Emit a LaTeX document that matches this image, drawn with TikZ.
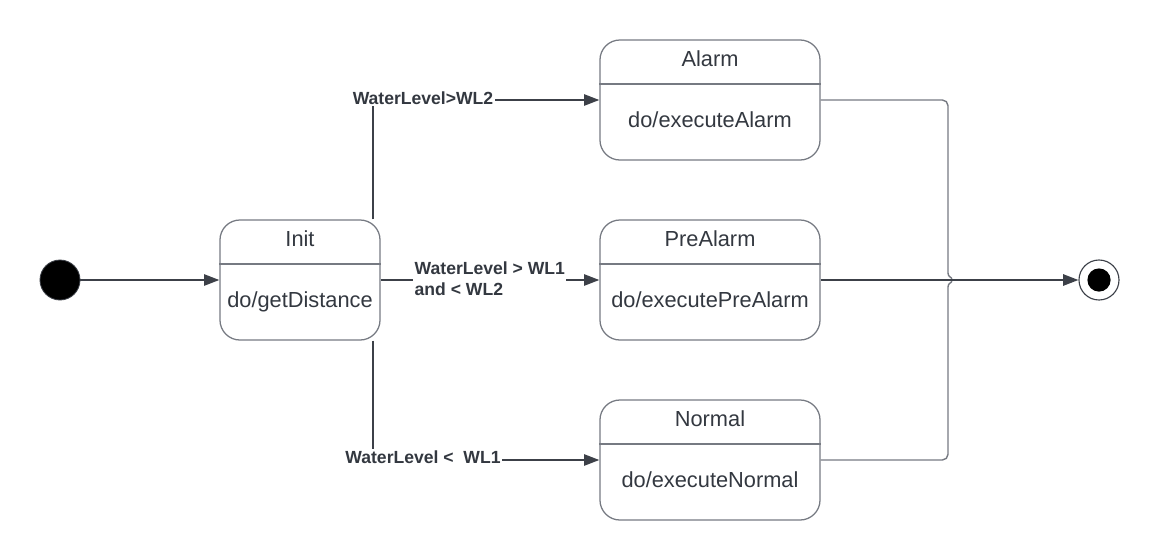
\documentclass[tikz,border=0pt]{standalone}
\usepackage{fontspec}
\setmainfont{Liberation Sans}
\usetikzlibrary{arrows.meta}

\definecolor{edgegray}{RGB}{60,64,72}
\definecolor{boxgray}{RGB}{118,122,130}
\definecolor{textgray}{RGB}{51,56,64}

\tikzset{
  statebox/.style={draw=boxgray, line width=0.9pt, rounded corners=0.5cm, minimum width=5.5cm, minimum height=3cm, inner sep=0pt},
  initbox/.style={statebox, minimum width=4cm},
  statetext/.style={text=textgray, font=\fontsize{15.5}{18}\selectfont, inner sep=0pt, anchor=base},
  divider/.style={draw=boxgray, line width=0.9pt},
  flow/.style={draw=edgegray, line width=1.3pt, -{Triangle[length=0.38cm,width=0.28cm]}},
  link/.style={draw=boxgray, line width=1pt},
  guard/.style={fill=white, text=textgray, font=\bfseries\fontsize{12.5}{15}\selectfont, inner sep=1pt, align=left},
  startdot/.style={circle, fill=black, draw=edgegray, line width=0.6pt, minimum size=1cm, inner sep=0pt},
  endring/.style={circle, draw=edgegray, line width=0.8pt, minimum size=1cm, inner sep=0pt},
  enddot/.style={circle, fill=black, minimum size=0.58cm, inner sep=0pt}
}

\begin{document}
\begin{tikzpicture}[x=0.025cm, y=-0.025cm]
\useasboundingbox (0,0) rectangle (1160,560);

\node[startdot] (start) at (60,280) {};
\node[endring] (final) at (1099,280) {};
\node[enddot] (finaldot) at (final) {};

\node[initbox] (init) at (300,280) {};
\node[statetext] (inittitle) at (300,246) {Init};
\draw[divider] (init.west |- 0,264) -- (init.east |- 0,264);
\node[statetext] (initdo) at (300,307) {do/getDistance};

\node[statebox] (alarm) at (710,100) {};
\node[statetext] (alarmtitle) at (710,66) {Alarm};
\draw[divider] (alarm.west |- 0,84) -- (alarm.east |- 0,84);
\node[statetext] (alarmdo) at (710,127) {do/executeAlarm};

\node[statebox] (prealarm) at (710,280) {};
\node[statetext] (prealarmtitle) at (710,246) {PreAlarm};
\draw[divider] (prealarm.west |- 0,264) -- (prealarm.east |- 0,264);
\node[statetext] (prealarmdo) at (710,307) {do/executePreAlarm};

\node[statebox] (normal) at (710,460) {};
\node[statetext] (normaltitle) at (710,426) {Normal};
\draw[divider] (normal.west |- 0,444) -- (normal.east |- 0,444);
\node[statetext] (normaldo) at (710,487) {do/executeNormal};

\coordinate (upjoin) at (373,100);
\coordinate (lowjoin) at (373,460);
\coordinate (hoptop) at (948,273);
\coordinate (hopbot) at (948,287);

\draw[flow] (start) -- (init);
\draw[flow] (init.north -| upjoin) -- (upjoin) -- (alarm.west);
\draw[flow] (init.east) -- (prealarm.west);
\draw[flow] (init.south -| lowjoin) -- (lowjoin) -- (normal.west);

\node[guard] (highguard) at (423,98) {WaterLevel>WL2};
\node[guard, anchor=west] (midguard) at (413,279) {WaterLevel > WL1\\and < WL2};
\node[guard] (lowguard) at (423,457) {WaterLevel <\ \ WL1};

\draw[link, rounded corners=4] (alarm.east) -| (hoptop);
\draw[link, rounded corners=4] (normal.east) -| (hopbot);
\draw[link] (hoptop) .. controls (948,278) and (952,276) .. (952,280) .. controls (952,284) and (948,282) .. (hopbot);
\draw[flow] (prealarm.east) -- (final);

\end{tikzpicture}
\end{document}
